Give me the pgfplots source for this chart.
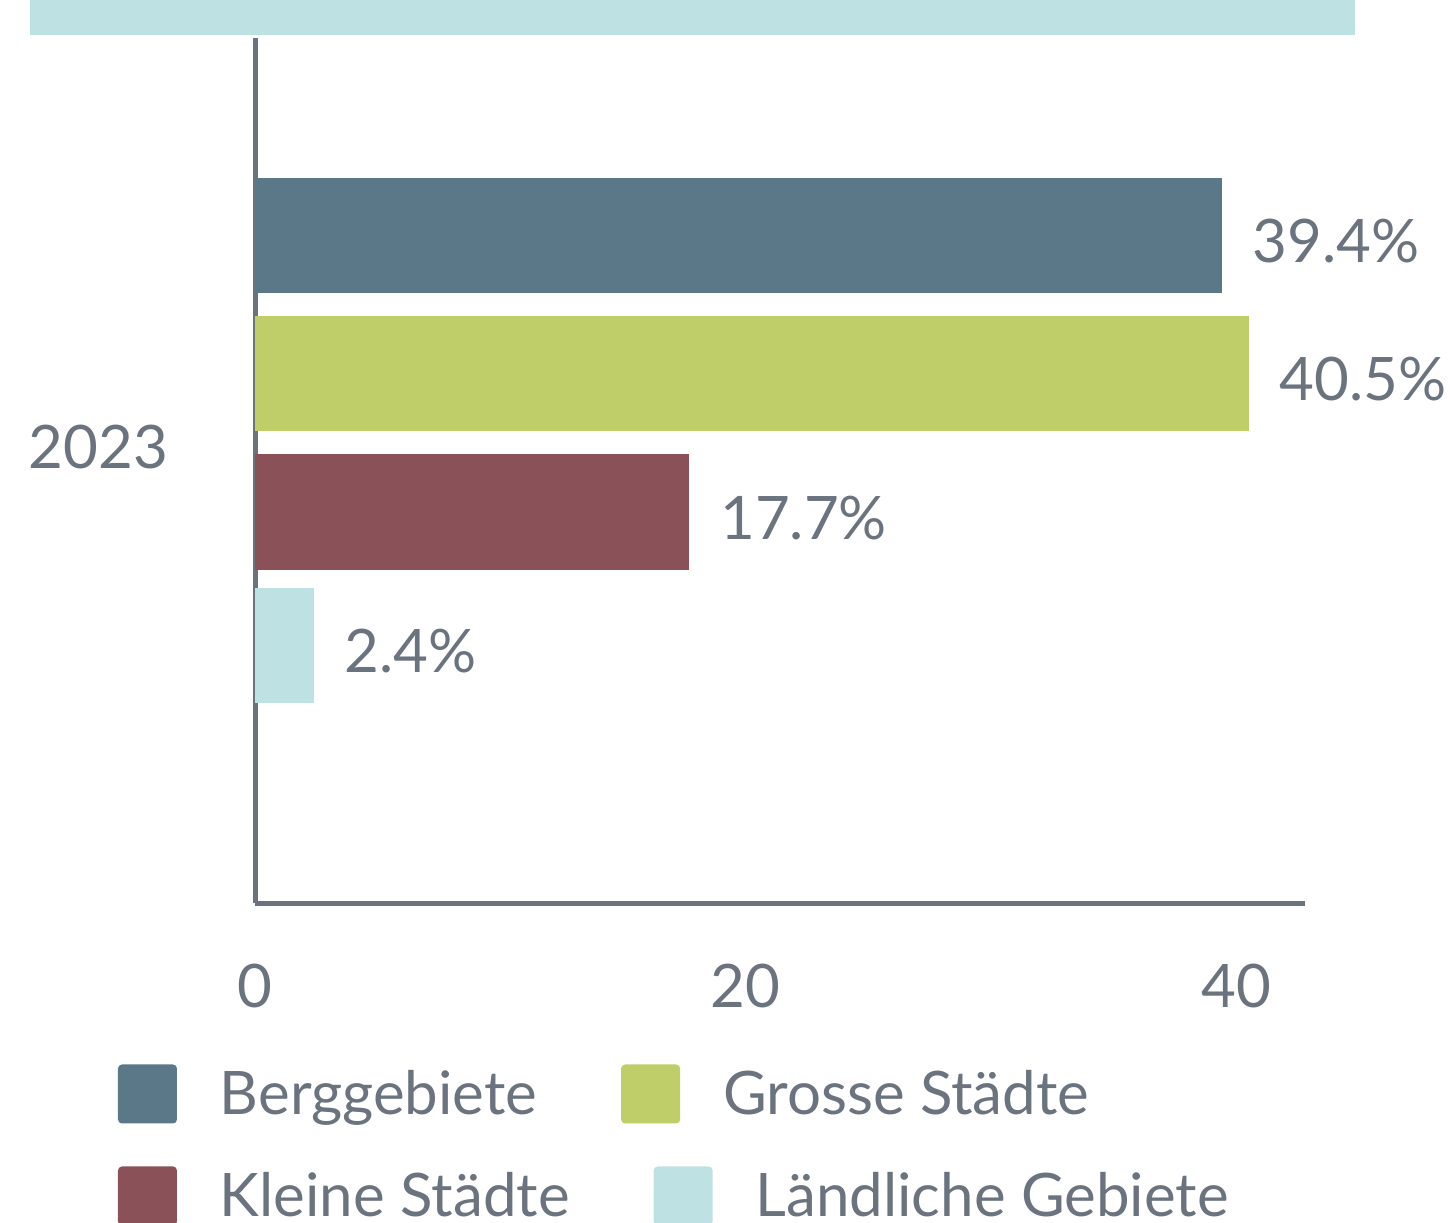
\documentclass[border=0pt]{standalone}
\usepackage{pgfplots}
\pgfplotsset{compat=1.18}
\usepackage{fontspec}
\setmainfont{Lato}
\definecolor{cA}{HTML}{5B7889}
\definecolor{cB}{HTML}{BFCE69}
\definecolor{cC}{HTML}{8A5158}
\definecolor{cD}{HTML}{BEE1E4}
\definecolor{txt}{HTML}{6B737E}
\begin{document}
\begin{tikzpicture}
\pgfplotsset{
  sq legend/.style={legend image code/.code={\fill[##1, rounded corners=2pt] (0pt,-14.75pt) rectangle (29.5pt,14.75pt);}},
  sbar/.style={xbar, bar width=57.5pt, bar shift=#1, draw=none, sq legend,
    every node near coord/.append style={yshift=#1}},
  common/.style={
    scale only axis, width=525pt, height=432.5pt,
    at={(127.5pt,159.5pt)}, anchor=south west,
    xmin=0, xmax=42.8, ymin=-4.6, ymax=4.05,
    font=\fontsize{30}{36}\selectfont,
    legend style={draw=none, fill=none, inner sep=0pt, outer sep=0pt,
      font=\fontsize{30}{36}\selectfont, text=txt,
      /tikz/every odd column/.append style={column sep=19.5pt},
      /tikz/every even column/.append style={column sep=40pt}},
    legend columns=2,
  }
}
\path[use as bounding box] (0,0) rectangle (725pt,611pt);
\fill[cD] (15pt,593.5pt) rectangle (677.5pt,611pt);
\begin{axis}[common,
  axis lines=left, axis line style={-, draw=txt, line width=2.5pt},
  xtick={0,20,40}, ytick={0}, yticklabels={2023},
  major tick length=0pt,
  /pgf/number format/assume math mode=true,
  tick label style={text=txt},
  xticklabel style={yshift=-27pt},
  yticklabel style={xshift=-40pt, yshift=-2pt},
  legend style={at={(-0.1305,-0.2208)}, anchor=west},
  nodes near coords={\pgfmathprintnumber[fixed,fixed zerofill,precision=1]{\pgfplotspointmeta}\%},
  point meta=x,
  every node near coord/.append style={text=txt, font=\fontsize{30}{36}\selectfont, xshift=12pt, yshift=-3pt},
]
\addplot[sbar=103.75pt, fill=cA] coordinates {(39.4,0)};
\addlegendentry{Berggebiete}
\addplot[sbar=34.75pt, fill=cB] coordinates {(40.5,0)};
\addlegendentry{Grosse Städte}
\addplot[sbar=-34.5pt, fill=cC] coordinates {(17.7,0)};
\addplot[sbar=-101.25pt, fill=cD] coordinates {(2.4,0)};
\end{axis}
\begin{axis}[common, hide axis,
  legend style={at={(-0.1305,-0.3387)}, anchor=west}]
\addlegendimage{fill=cC, draw=none, sq legend}
\addlegendentry{Kleine Städte}
\addlegendimage{fill=cD, draw=none, sq legend}
\addlegendentry{Ländliche Gebiete}
\end{axis}
\end{tikzpicture}
\end{document}
